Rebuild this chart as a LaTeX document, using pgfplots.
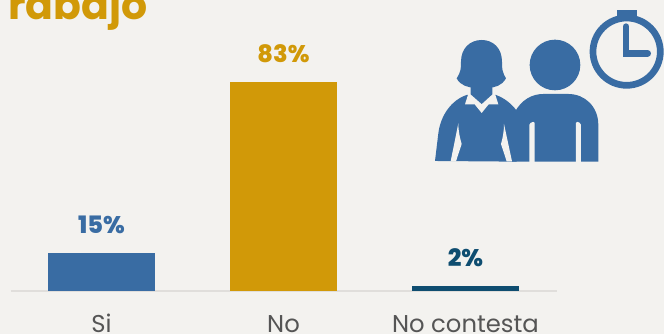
\documentclass[border=0pt]{standalone}
\usepackage{pgfplots}
\pgfplotsset{compat=1.18}
\usepackage{fontspec}
\setmainfont{Poppins}
\newfontfamily\heavy{Poppins ExtraBold}
\definecolor{paper}{HTML}{F3F2EF}
\definecolor{azul}{HTML}{396CA3}
\definecolor{oro}{HTML}{D19908}
\definecolor{marino}{HTML}{0E4D70}
\definecolor{rotulo}{HTML}{555555}
\definecolor{linea}{HTML}{E0DEDB}
\begin{document}
\begin{tikzpicture}
\useasboundingbox (0,0) rectangle (664pt,334pt);
\fill[paper] (0,0) rectangle (664pt,334pt);
\clip (0,0) rectangle (664pt,334pt);

% heading, running off the top edge
\node[anchor=base west, inner sep=0pt, text=oro] at (8pt,314pt)
  {\fontsize{41}{44}\selectfont\bfseries rabajo};

\begin{axis}[
  at={(10.5pt,43pt)}, anchor=south west,
  scale only axis, width=546pt, height=251.8pt,
  xmin=-0.5, xmax=2.5, ymin=0, ymax=100,
  axis x line*=bottom, hide y axis,
  axis line style={linea, line width=2pt, -},
  xtick={0,1,2}, xticklabels={Si,No,No contesta},
  xtick style={draw=none},
  xticklabel style={text=rotulo, font=\fontsize{24.3}{28}\selectfont, anchor=center, yshift=-32pt},
  typeset ticklabels with strut,
  clip=false,
  ybar, bar width=107pt, bar shift=0pt,
  /pgf/number format/assume math mode=true,
  nodes near coords={\pgfmathprintnumber{\pgfplotspointmeta}\%},
  nodes near coords style={anchor=center, yshift=28pt, font=\fontsize{24}{26}\selectfont\heavy},
]
\addplot[fill=azul, draw=none, text=azul] coordinates {(0,15)};
\addplot[fill=oro, draw=none, text=oro] coordinates {(1,83)};
\addplot[fill=marino, draw=none, text=marino] coordinates {(2,2)};
\end{axis}

% pictogram: two people and a clock
\begin{scope}[shift={(420pt,334pt)}, x=0.3333pt, y=-0.3333pt]
  % clock
  \draw[azul, line width=6.7pt] (620,155) circle[radius=101];
  \fill[azul] (590,30) rectangle (650,50);
  \draw[azul, line width=6.7pt, line cap=round, line join=miter] (618,80) -- (618,160) -- (683,160);
  % man
  \fill[azul] (405,195) circle[radius=76];
  \fill[azul] (276,485) -- (285,335) .. controls (305,300) and (335,282) .. (370,282)
    -- (445,282) .. controls (495,282) and (535,320) .. (535,375) -- (535,485) -- cycle;
  % woman: jacket
  \fill[azul] (45,483) -- (55,400) .. controls (62,345) and (95,300) .. (140,285)
    -- (228,285) .. controls (255,295) and (275,312) .. (290,332) -- (290,485) -- cycle;
  % gaps between arms and torsos
  \fill[paper] (92,484) -- (115,370) .. controls (115,395) and (120,415) .. (125,432) -- (108,484) -- cycle;
  \fill[paper] (260,484) -- (243,432) .. controls (248,415) and (252,395) .. (252,372) -- (276,484) -- cycle;
  \fill[paper, rounded corners=1.5pt] (328,490) -- (328,370) -- (344,364) -- (344,490) -- cycle;
  \fill[paper, rounded corners=1.5pt] (468,490) -- (468,364) -- (483,370) -- (483,490) -- cycle;
  % collar
  \fill[paper] (135,313) -- (146,278) -- (224,278) -- (235,313) -- (206,313) -- (185,339) -- (164,313) -- cycle;
  % neck and hair
  \fill[azul] (152,255) -- (152,283) -- (185,312) -- (217,283) -- (217,255) -- cycle;
  \fill[azul] (123,185) .. controls (123,145) and (150,120) .. (185,120)
    .. controls (220,120) and (246,145) .. (246,185)
    .. controls (246,205) and (246,215) .. (258,235)
    .. controls (245,258) and (225,262) .. (205,264) -- (165,264)
    .. controls (145,262) and (122,258) .. (110,235)
    .. controls (123,215) and (123,205) .. (123,185) -- cycle;
\end{scope}
\end{tikzpicture}
\end{document}
